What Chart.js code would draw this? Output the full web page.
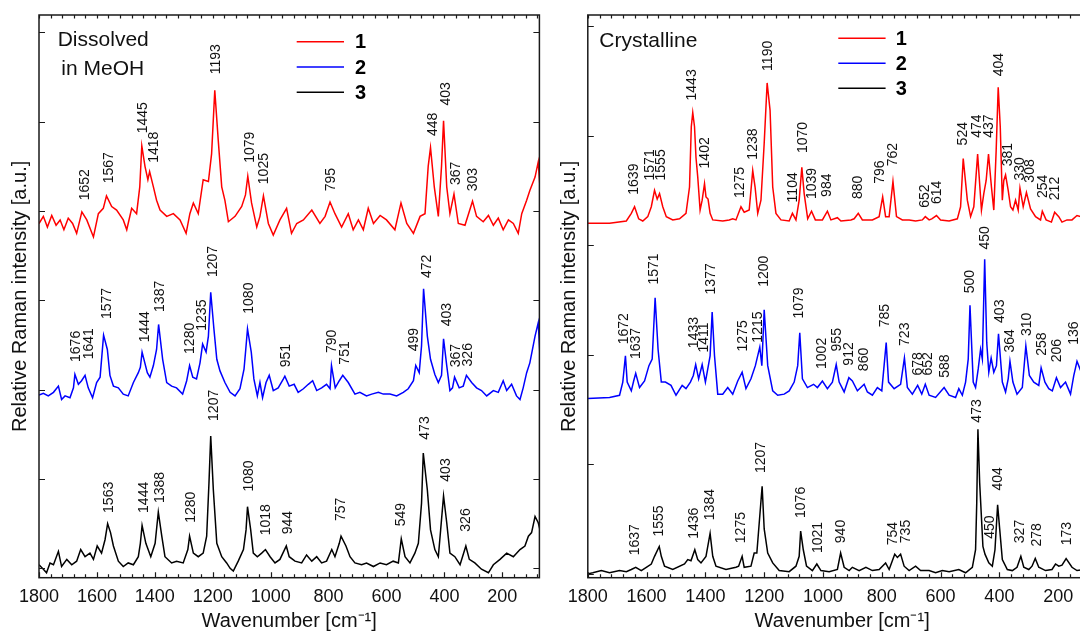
<!DOCTYPE html>
<html>
<head>
<meta charset="utf-8">
<script src="https://cdn.jsdelivr.net/npm/chart.js@4.4.0/dist/chart.umd.min.js"></script>
<style>
  html, body { margin: 0; padding: 0; background: #fff; overflow: hidden; width: 1080px; height: 633px; }
  canvas { position: absolute; top: 0; }
  #sol { left: 0; }
  #crys { left: 545px; }
</style>
</head>
<body>
<canvas id="sol" width="545" height="633"></canvas>
<canvas id="crys" width="575" height="633"></canvas>
<script>
// [wavenumber cm-1, relative intensity]
const solRed = [[1800,-0.02],[1785,0.06],[1771,-0.06],[1756,0.07],[1741,-0.04],[1727,0.02],[1714,-0.09],[1699,0.04],[1684,-0.02],[1670,-0.13],[1652,0.11],[1635,0.02],[1612,-0.17],[1595,0.09],[1578,0.15],[1567,0.29],[1549,0.17],[1532,0.13],[1509,0.02],[1497,-0.09],[1480,0.15],[1463,0.09],[1452,0.39],[1445,0.85],[1434,0.62],[1424,0.47],[1418,0.56],[1405,0.39],[1394,0.24],[1382,0.13],[1359,0.06],[1336,0.09],[1313,0.02],[1292,-0.13],[1279,0.09],[1267,0.21],[1250,0.09],[1233,0.47],[1215,0.45],[1204,0.76],[1193,1.47],[1181,0.91],[1169,0.39],[1158,0.24],[1146,0],[1123,0.06],[1100,0.17],[1087,0.3],[1079,0.51],[1066,0.21],[1048,-0.06],[1037,0.06],[1025,0.29],[1008,-0.02],[991,-0.15],[968,0.02],[945,0.15],[928,-0.13],[910,-0.02],[887,0.02],[858,0.13],[830,-0.02],[812,0.06],[795,0.22],[778,0.09],[755,-0.06],[732,0.09],[715,-0.09],[697,0.02],[680,-0.09],[663,0.15],[645,-0.02],[622,0.07],[600,0.02],[571,-0.09],[550,0.21],[530,-0.02],[507,-0.13],[484,0.06],[467,0.09],[456,0.62],[448,0.83],[435,0.39],[421,0.06],[410,0.62],[403,1.13],[392,0.39],[381,0.09],[367,0.31],[352,-0.02],[329,-0.04],[303,0.23],[289,0.06],[266,0],[248,0.07],[231,-0.04],[214,0.04],[197,-0.09],[179,0.02],[162,-0.02],[145,-0.13],[133,0.09],[116,0.24],[105,0.35],[87,0.5],[76,0.67],[70,0.39]]
const solBlue = [[1800,-0.01],[1785,0.01],[1768,-0.02],[1750,0.02],[1733,0.09],[1722,-0.06],[1710,-0.02],[1693,-0.04],[1681,0.07],[1676,0.22],[1664,0.11],[1653,0.15],[1641,0.21],[1630,0.07],[1615,-0.04],[1601,0.13],[1589,0.19],[1577,0.66],[1564,0.5],[1555,0.21],[1543,0.09],[1526,0.07],[1509,0],[1492,-0.02],[1474,0.13],[1457,0.24],[1450,0.3],[1444,0.47],[1426,0.24],[1417,0.19],[1405,0.32],[1394,0.5],[1387,0.78],[1373,0.39],[1359,0.13],[1342,0.09],[1325,0.07],[1304,0],[1290,0.15],[1280,0.32],[1269,0.19],[1256,0.17],[1244,0.35],[1235,0.56],[1223,0.47],[1215,0.65],[1207,1.14],[1196,0.73],[1186,0.39],[1175,0.26],[1158,0.13],[1140,0.02],[1123,-0.02],[1106,0.06],[1092,0.28],[1086,0.5],[1080,0.73],[1067,0.47],[1058,0.17],[1046,-0.02],[1037,0.13],[1028,-0.04],[1016,0.13],[1005,0.21],[991,0.04],[974,0.07],[956,0.17],[951,0.2],[936,0.09],[919,0.11],[905,0.02],[887,0.06],[870,0.11],[855,0.15],[841,0.04],[824,0.07],[807,0.11],[795,0.06],[790,0.32],[777,0.07],[763,0.15],[751,0.21],[732,0.13],[709,0],[692,0.02],[669,-0.02],[651,0],[628,0.02],[611,0],[588,0],[565,-0.02],[542,0.02],[525,0.06],[507,0.15],[499,0.32],[487,0.24],[479,0.54],[472,1.18],[459,0.65],[448,0.39],[433,0.22],[421,0.13],[410,0.21],[403,0.62],[392,0.32],[381,0.04],[372,0.07],[365,0.19],[349,0.07],[335,0.09],[324,0.21],[306,0.13],[289,0.07],[272,0.04],[254,-0.02],[231,0.04],[214,0.02],[197,0.15],[185,0.04],[168,0.11],[151,-0.02],[139,-0.06],[128,0.07],[116,0.24],[105,0.35],[87,0.65],[76,0.8],[70,0.43]]
const solBlack = [[1800,-0.02],[1785,-0.07],[1774,-0.11],[1762,0],[1750,-0.02],[1733,0.13],[1722,-0.04],[1704,0.04],[1687,-0.02],[1670,0.02],[1656,0.15],[1641,0.07],[1624,0.11],[1612,0.04],[1599,0.19],[1584,0.11],[1572,0.26],[1563,0.44],[1553,0.34],[1543,0.19],[1526,0.02],[1509,-0.04],[1492,0],[1474,-0.02],[1457,0.07],[1450,0.22],[1444,0.42],[1431,0.22],[1414,0.07],[1399,0.22],[1388,0.57],[1376,0.3],[1365,0.07],[1342,0],[1325,0.02],[1302,0],[1286,0.15],[1280,0.3],[1267,0.11],[1250,0.07],[1233,0.11],[1221,0.3],[1213,0.9],[1207,1.42],[1198,0.82],[1186,0.22],[1169,0.07],[1152,0],[1140,-0.06],[1129,-0.09],[1112,0.02],[1094,0.15],[1085,0.37],[1080,0.63],[1069,0.37],[1060,0.11],[1046,0.07],[1031,0.11],[1018,0.15],[1002,0.07],[985,0],[968,0.04],[946,0.19],[936,0.07],[916,0.02],[893,0],[876,0.09],[858,0.02],[841,0.07],[824,0],[807,0.02],[789,0.15],[778,0.07],[763,0.22],[757,0.3],[740,0.19],[726,0.07],[709,0],[686,-0.02],[669,0],[645,-0.04],[622,0],[600,-0.02],[577,0.02],[559,0],[549,0.27],[536,0.07],[519,0],[502,0.11],[490,0.22],[479,0.67],[473,1.23],[459,0.82],[448,0.37],[433,0.15],[421,0.07],[413,0.37],[403,0.75],[392,0.45],[381,0.11],[364,0.07],[346,-0.02],[326,0.19],[314,0.04],[295,0],[272,-0.07],[248,-0.11],[231,-0.02],[208,0.04],[185,0.11],[162,0.07],[139,0.15],[122,0.19],[110,0.3],[99,0.34],[87,0.52],[76,0.45],[70,0.37]]

const crysRed = [[1800,-0.02],[1726,-0.02],[1669,0],[1652,0.07],[1641,0.13],[1627,0.02],[1613,0],[1596,0.04],[1584,0.13],[1573,0.28],[1564,0.2],[1556,0.25],[1545,0.13],[1533,0.04],[1511,0.01],[1488,0.02],[1466,0.07],[1454,0.31],[1448,0.86],[1443,0.99],[1437,0.86],[1432,0.58],[1426,0.4],[1418,0.1],[1411,0.19],[1403,0.34],[1398,0.22],[1391,0.2],[1384,0.07],[1375,0.01],[1341,0],[1319,0.01],[1307,0.02],[1296,0.01],[1279,0.13],[1268,0.08],[1251,0.1],[1239,0.46],[1231,0.31],[1222,0.07],[1211,0.19],[1200,0.71],[1190,1.26],[1180,1.01],[1171,0.31],[1160,0.07],[1143,0.01],[1115,0],[1104,0.07],[1092,0.01],[1081,0.19],[1072,0.49],[1064,0.25],[1052,0.02],[1039,0.09],[1026,0.01],[1002,0.01],[985,0.09],[973,0.01],[951,0.03],[939,0],[905,0.01],[894,0.02],[880,0.07],[866,0.01],[832,0.01],[809,0.04],[797,0.22],[787,0.04],[775,0.04],[762,0.36],[750,0.04],[730,0.01],[707,0.01],[685,0],[662,0.01],[652,0.04],[639,0.01],[630,0.02],[614,0.05],[600,0.01],[571,0],[543,0.02],[532,0.13],[523,0.57],[509,0.19],[498,0.04],[487,0.13],[474,0.61],[461,0.1],[453,0.25],[445,0.37],[437,0.61],[427,0.31],[419,0.1],[411,0.64],[404,1.22],[397,0.86],[390,0.19],[385,0.37],[379,0.42],[370,0.28],[362,0.13],[354,0.1],[345,0.19],[336,0.1],[330,0.3],[319,0.13],[308,0.26],[294,0.11],[277,0.04],[260,0.01],[254,0.09],[241,0.01],[223,-0.01],[212,0.08],[198,0.04],[187,-0.01],[170,0.01],[153,0.01],[136,0.05],[110,0.03],[70,0.02]]
const crysBlue = [[1800,-0.01],[1726,0],[1692,0.02],[1681,0.14],[1672,0.38],[1666,0.14],[1652,0.06],[1644,0.15],[1637,0.22],[1624,0.09],[1607,0.15],[1592,0.29],[1581,0.35],[1571,0.91],[1561,0.44],[1550,0.14],[1536,0.14],[1517,0.11],[1500,0.02],[1479,0.11],[1466,0.08],[1451,0.14],[1441,0.2],[1433,0.3],[1423,0.17],[1411,0.3],[1400,0.14],[1384,0.38],[1377,0.78],[1369,0.38],[1358,0.03],[1341,0.03],[1324,0.09],[1307,0.03],[1290,0.15],[1275,0.23],[1262,0.08],[1245,0.17],[1230,0.29],[1215,0.46],[1208,0.29],[1200,0.8],[1188,0.29],[1171,0.06],[1154,0.02],[1132,0.03],[1115,0.06],[1098,0.14],[1086,0.29],[1079,0.59],[1070,0.17],[1053,0.09],[1032,0.12],[1019,0.09],[1002,0.15],[985,0.08],[968,0.14],[955,0.3],[945,0.14],[928,0.05],[912,0.18],[900,0.15],[883,0.06],[860,0.12],[849,0.05],[832,0.02],[815,0.09],[800,0.06],[785,0.5],[777,0.14],[758,0.08],[736,0.12],[723,0.36],[713,0.09],[696,0.03],[678,0.11],[664,0.03],[652,0.12],[639,0.02],[617,0],[588,0.09],[571,0.02],[549,0],[538,0.08],[526,0.02],[515,0.14],[506,0.35],[500,0.84],[489,0.14],[481,0.09],[472,0.26],[464,0.44],[458,0.35],[450,1.26],[443,0.5],[436,0.23],[428,0.36],[419,0.23],[410,0.29],[403,0.58],[390,0.14],[379,0.05],[370,0.17],[364,0.33],[354,0.14],[340,0.03],[322,0.09],[310,0.47],[298,0.2],[283,0.14],[266,0.11],[258,0.27],[245,0.14],[232,0.08],[220,0.06],[206,0.18],[192,0.09],[175,0.14],[158,0.03],[147,0.2],[136,0.33],[120,0.22],[100,0.12],[70,0.05]]
const crysBlack = [[1800,-0.01],[1783,0],[1754,0.02],[1726,0],[1692,0.02],[1669,0.01],[1652,0.03],[1637,0.05],[1618,0.02],[1601,0.05],[1584,0.08],[1573,0.15],[1557,0.24],[1550,0.15],[1539,0.06],[1511,0.03],[1471,0.08],[1460,0.12],[1449,0.11],[1436,0.21],[1426,0.12],[1415,0.09],[1398,0.15],[1384,0.36],[1375,0.15],[1364,0.06],[1330,0.03],[1296,0.05],[1287,0.06],[1275,0.15],[1268,0.05],[1245,0.06],[1234,0.18],[1225,0.18],[1207,0.79],[1200,0.4],[1188,0.18],[1171,0.09],[1149,0.02],[1115,0.01],[1092,0.06],[1081,0.15],[1076,0.38],[1067,0.21],[1056,0.06],[1036,0.02],[1021,0.08],[1007,0.02],[979,0.01],[951,0.03],[940,0.18],[928,0.05],[911,0.02],[900,0.05],[877,0.02],[854,0.05],[832,0.02],[809,0.03],[787,0.09],[775,0.03],[756,0.17],[747,0.14],[736,0.17],[724,0.06],[707,0.02],[685,0.06],[668,0.02],[639,0.02],[617,0],[594,0.02],[571,0.01],[538,0.03],[515,0],[492,0.05],[481,0.21],[477,0.64],[473,1.31],[467,0.82],[456,0.24],[449,0.17],[436,0.09],[424,0.06],[415,0.21],[406,0.62],[399,0.4],[390,0.12],[373,0.03],[356,0.02],[340,0.05],[327,0.15],[317,0.05],[300,0.03],[289,0.06],[278,0.13],[266,0.05],[243,0.02],[221,0.03],[209,0.08],[198,0.06],[187,0.07],[173,0.13],[153,0.05],[136,0.02],[110,0.03],[70,0.02]]

// peak labels: [text, wavenumber where the label sits, height of the label foot above the trace baseline]
const solRedPeaks = [["1652",1641,0.24],["1567",1557,0.43],["1445",1440,0.99],["1418",1402,0.66],["1193",1190,1.65],["1079",1071,0.66],["1025",1022,0.42],["795",792,0.34],["448",438,0.96],["403",395,1.30],["367",361,0.41],["303",300,0.34]]
const solBluePeaks = [["1676",1672,0.36],["1641",1626,0.39],["1577",1566,0.84],["1444",1434,0.58],["1387",1382,0.92],["1280",1279,0.45],["1235",1235,0.71],["1207",1198,1.31],["1080",1074,0.90],["951",945,0.30],["790",787,0.46],["751",743,0.33],["499",504,0.48],["472",459,1.30],["403",392,0.76],["367",360,0.30],["326",317,0.31]]
const solBlackPeaks = [["1563",1557,0.56],["1444",1437,0.56],["1388",1382,0.67],["1280",1273,0.45],["1207",1195,1.59],["1080",1074,0.80],["1018",1014,0.31],["944",941,0.32],["757",758,0.47],["549",548,0.41],["473",467,1.38],["403",395,0.91],["326",326,0.35]]
const crysRedPeaks = [["1639",1644,0.24],["1571",1587,0.37],["1555",1551,0.37],["1443",1446,1.10],["1402",1400,0.48],["1275",1282,0.21],["1238",1237,0.56],["1190",1188,1.37],["1104",1103,0.17],["1070",1069,0.62],["1039",1036,0.20],["984",985,0.22],["880",880,0.20],["796",804,0.34],["762",760,0.50],["652",651,0.12],["614",611,0.155],["524",524,0.69],["474",475,0.76],["437",436,0.76],["404",402,1.32],["381",370,0.50],["330",330,0.37],["308",294,0.35],["254",251,0.21],["212",209,0.19]]
const crysBluePeaks = [["1672",1677,0.485],["1637",1635,0.35],["1571",1573,1.03],["1433",1437,0.45],["1411",1403,0.41],["1377",1381,0.94],["1275",1273,0.42],["1215",1219,0.5],["1200",1200,1.01],["1079",1081,0.72],["1002",1002,0.26],["955",953,0.42],["912",911,0.29],["860",860,0.24],["785",787,0.64],["723",721,0.47],["678",676,0.2],["652",642,0.2],["588",585,0.18],["500",501,0.95],["450",447,1.35],["403",399,0.68],["364",362,0.41],["310",306,0.56],["258",255,0.38],["206",204,0.32],["136",147,0.48]]
const crysBlackPeaks = [["1637",1638,0.16],["1555",1558,0.33],["1436",1437,0.31],["1384",1384,0.48],["1275",1279,0.27],["1207",1211,0.91],["1076",1075,0.50],["1021",1018,0.18],["940",939,0.27],["754",760,0.25],["735",718,0.27],["473",475,1.37],["450",432,0.31],["404",404,0.75],["327",328,0.27],["278",271,0.24],["173",170,0.25]]

const traceNames = ["1", "2", "3"]
const traceColors = ["#ff0000", "#0000ff", "#000000"]
const xTickValues = [1800, 1600, 1400, 1200, 1000, 800, 600, 400, 200]

// vertical stacking of the three spectra in each panel
const solOffset = [3.88, 1.95, 0.06]
const crysOffset = [3.22, 1.61, 0.01]

const FONT = "'Liberation Sans', Arial, sans-serif"

// frame, inward ticks, peak labels, legend and panel captions
const decorPlugin = {
  id: "decor",
  afterDatasetsDraw(chart, args, opts) {
    const { ctx, chartArea: a } = chart
    const x = chart.scales.x
    const y = chart.scales.y
    ctx.save()

    ctx.fillStyle = "#111"
    ctx.font = "14px " + FONT
    ctx.textAlign = "left"
    ctx.textBaseline = "middle"
    opts.peaks.forEach((list, i) => {
      list.forEach(([text, wn, h]) => {
        ctx.save()
        ctx.translate(x.getPixelForValue(wn), y.getPixelForValue(h + opts.offsets[i]))
        ctx.rotate(-Math.PI / 2)
        ctx.fillText(text, 0, 0)
        ctx.restore()
      })
    })

    ctx.strokeStyle = "#1a1a1a"
    ctx.lineWidth = 1.5
    ctx.strokeRect(a.left, a.top, a.right - a.left, a.bottom - a.top)

    ctx.lineWidth = 1.2
    ctx.beginPath()
    for (let v = 0; v <= opts.yTickMax; v++) {
      const py = Math.round(y.getPixelForValue(v)) + 0.5
      ctx.moveTo(a.left, py)
      ctx.lineTo(a.left + 6, py)
      ctx.moveTo(a.right, py)
      ctx.lineTo(a.right - 6, py)
    }
    // minor every 40 cm-1, longer at the labelled values
    for (let v = 1800; v >= x.min; v -= 40) {
      const px = Math.round(x.getPixelForValue(v)) + 0.5
      const major = v % 200 === 0
      ctx.moveTo(px, a.top)
      ctx.lineTo(px, a.top + 3.5)
      ctx.moveTo(px, a.bottom)
      ctx.lineTo(px, a.bottom - (major ? 5.5 : 3.5))
    }
    ctx.stroke()

    // y axis title
    ctx.save()
    ctx.font = "20px " + FONT
    ctx.textAlign = "center"
    ctx.translate(opts.yTitleX, (a.top + a.bottom) / 2)
    ctx.rotate(-Math.PI / 2)
    ctx.fillText("Relative Raman intensity [a.u.]", 0, 0)
    ctx.restore()

    // panel caption
    ctx.font = "21px " + FONT
    ctx.textBaseline = "alphabetic"
    opts.caption.forEach(([text, dx, dy]) => ctx.fillText(text, a.left + dx, a.top + dy))

    // legend
    const lg = opts.legend
    ctx.lineWidth = 1.5
    ctx.font = "bold 20px " + FONT
    ctx.textBaseline = "middle"
    traceNames.forEach((name, i) => {
      const ly = a.top + lg.y + i * lg.gap
      ctx.strokeStyle = traceColors[i]
      ctx.beginPath()
      ctx.moveTo(a.left + lg.x0, ly)
      ctx.lineTo(a.left + lg.x1, ly)
      ctx.stroke()
      ctx.fillStyle = "#000"
      ctx.fillText(name, a.left + lg.tx, ly + 1)
    })
    ctx.restore()
  },
}

function makePanel(canvasId, traces, offsets, peaks, opts) {
  const canvas = document.getElementById(canvasId)
  if (!canvas) return null

  return new Chart(canvas.getContext("2d"), {
    type: "line",
    data: {
      datasets: traces.map((t, i) => ({
        label: traceNames[i],
        data: t.map(([wn, v]) => ({ x: wn, y: v + offsets[i] })),
        borderColor: traceColors[i],
        borderWidth: 1.5,
        pointRadius: 0,
        tension: 0,
        fill: false,
      })),
    },
    options: {
      responsive: false,
      animation: false,
      devicePixelRatio: 1,
      layout: {
        padding: { left: opts.padLeft, right: opts.padRight, top: 15, bottom: 0 },
      },
      plugins: {
        legend: { display: false },
        tooltip: { enabled: false },
        decor: {
          peaks,
          offsets,
          yTickMax: opts.yTickMax,
          yTitleX: opts.yTitleX,
          caption: opts.caption,
          legend: opts.legend,
        },
      },
      scales: {
        x: {
          type: "linear",
          reverse: true,
          min: opts.xMin,
          max: 1800,
          afterBuildTicks: (scale) => {
            scale.ticks = xTickValues.map((v) => ({ value: v }))
          },
          afterFit: (scale) => {
            scale.height = 55.3
          },
          grid: { display: false, drawTicks: false },
          border: { display: false },
          ticks: {
            color: "#111",
            font: { family: FONT, size: 18 },
            padding: 9,
            maxRotation: 0,
            autoSkip: false,
            callback: (value) => String(value),
          },
          title: {
            display: true,
            text: "Wavenumber [cm⁻¹]",
            color: "#111",
            font: { family: FONT, size: 20 },
            padding: { top: 0, bottom: 0 },
          },
        },
        y: {
          display: false,
          min: opts.yMin,
          max: opts.yMax,
        },
      },
    },
    plugins: [decorPlugin],
  })
}

makePanel("sol", [solRed, solBlue, solBlack], solOffset, [solRedPeaks, solBluePeaks, solBlackPeaks], {
  padLeft: 39,
  padRight: 5.6,
  xMin: 72,
  yMin: -0.105,
  yMax: 6.194,
  yTickMax: 6,
  yTitleX: 20,
  caption: [["Dissolved", 18.7, 31], ["in MeOH", 22.3, 60]],
  legend: { x0: 257.7, x1: 305, tx: 316, y: 26.7, gap: 25.3 },
})

makePanel("crys", [crysRed, crysBlue, crysBlack], crysOffset, [crysRedPeaks, crysBluePeaks, crysBlackPeaks], {
  padLeft: 42.8,
  padRight: 23.6,
  xMin: 70,
  yMin: -0.035,
  yMax: 5.1,
  yTickMax: 5,
  yTitleX: 24,
  caption: [["Crystalline", 11.5, 31.7]],
  legend: { x0: 250.5, x1: 297.8, tx: 308, y: 23.3, gap: 25 },
})
</script>
</body>
</html>
